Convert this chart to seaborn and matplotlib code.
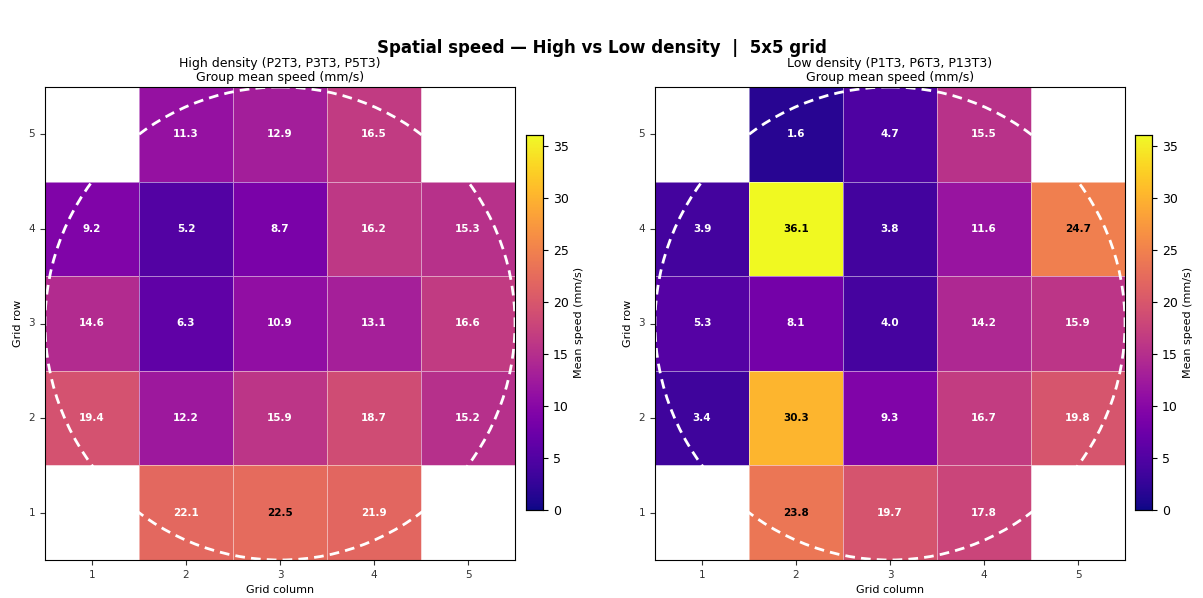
import numpy as np
import pandas as pd
import matplotlib
matplotlib.use("Agg")
import matplotlib.pyplot as plt
import seaborn as sns
from matplotlib.patches import Circle

rows = [5, 4, 3, 2, 1]
cols = [1, 2, 3, 4, 5]
nan = np.nan

high_r5 = [nan, 11.3, 12.9, 16.5, nan]
high_r4 = [9.2, 5.2, 8.7, 16.2, 15.3]
high_r3 = [14.6, 6.3, 10.9, 13.1, 16.6]
high_r2 = [19.4, 12.2, 15.9, 18.7, 15.2]
high_r1 = [nan, 22.1, 22.5, 21.9, nan]

low_r5 = [nan, 1.6, 4.7, 15.5, nan]
low_r4 = [3.9, 36.1, 3.8, 11.6, 24.7]
low_r3 = [5.3, 8.1, 4.0, 14.2, 15.9]
low_r2 = [3.4, 30.3, 9.3, 16.7, 19.8]
low_r1 = [nan, 23.8, 19.7, 17.8, nan]

high = pd.DataFrame([high_r5, high_r4, high_r3, high_r2, high_r1], index=rows, columns=cols)
low = pd.DataFrame([low_r5, low_r4, low_r3, low_r2, low_r1], index=rows, columns=cols)

titles = ["High density (P2T3, P3T3, P5T3)\nGroup mean speed (mm/s)",
          "Low density (P1T3, P6T3, P13T3)\nGroup mean speed (mm/s)"]

vmax = float(np.nanmax([np.nanmax(high.values), np.nanmax(low.values)]))

W, H = 1203, 598
fig = plt.figure(figsize=(W / 100, H / 100), dpi=100)

def px(x0, y0, x1, y1):
    return [x0 / W, 1 - y1 / H, (x1 - x0) / W, (y1 - y0) / H]

ax_pos = [px(45, 87, 515, 560), px(655, 87, 1125, 560)]
cb_pos = [px(526, 135, 543, 510), px(1135, 135, 1152, 510)]

for df, title, apos, cpos in zip([high, low], titles, ax_pos, cb_pos):
    ax = fig.add_axes(apos)
    cax = fig.add_axes(cpos)
    sns.heatmap(df, ax=ax, cbar_ax=cax, cmap="plasma", vmin=0, vmax=vmax,
                annot=True, fmt=".1f",
                annot_kws={"fontsize": 7.5, "fontweight": "bold"},
                linewidths=0.6, linecolor=(1, 1, 1, 0.5), square=False,
                cbar_kws={"label": "Mean speed (mm/s)", "ticks": [0, 5, 10, 15, 20, 25, 30, 35]})
    for t in ax.texts:
        v = float(t.get_text())
        t.set_color("black" if v > 0.62 * vmax else "white")
    for s in ax.spines.values():
        s.set_visible(True)
        s.set_color("black")
        s.set_linewidth(0.8)
    ax.tick_params(length=3.5, labelsize=7.5, colors="#333333")
    ax.tick_params(axis="y", labelrotation=0)
    ax.set_xlabel("Grid column", fontsize=8)
    ax.set_ylabel("Grid row", fontsize=8)
    ax.set_title(title, fontsize=9, linespacing=1.15, pad=4)
    ax.add_patch(Circle((2.5, 2.5), 2.5, fill=False, edgecolor="white",
                        linestyle=(0, (3.5, 2.2)), linewidth=2.0, clip_on=True))
    cax.tick_params(labelsize=9, length=3.5)
    cax.yaxis.label.set_size(8)
    for s in cax.spines.values():
        s.set_visible(True)
        s.set_linewidth(0.8)

fig.suptitle("Spatial speed \u2014 High vs Low density  |  5x5 grid",
             fontsize=12, fontweight="bold", y=0.935)

fig.savefig("out.png", dpi=100)
